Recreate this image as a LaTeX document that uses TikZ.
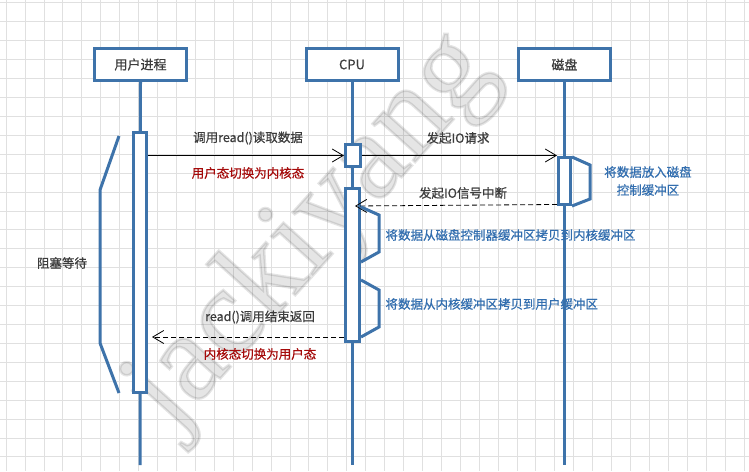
\documentclass[tikz,border=0pt]{standalone}
\usepackage{fontspec}
\setmainfont{Noto Sans CJK SC}[FakeBold=0.7]
\newfontfamily\markfont{Liberation Serif}[FakeBold=2]
\usetikzlibrary{arrows.meta}
\definecolor{seqBlue}{RGB}{62,115,170}
\definecolor{seqRed}{RGB}{165,10,10}
\definecolor{seqText}{RGB}{60,60,60}
\definecolor{seqNote}{RGB}{50,110,175}
\definecolor{seqGrid}{RGB}{224,224,224}
\begin{document}
\begin{tikzpicture}[x=1pt,y=-1pt,
    seqHead/.style={rectangle,draw=seqBlue,line width=3pt,fill=white,minimum width=92pt,minimum height=32pt,font=\fontsize{13}{15}\selectfont,text=seqText},
    seqAct/.style={rectangle,draw=seqBlue,line width=3pt,fill=white,inner sep=0pt},
    seqLife/.style={draw=seqBlue,line width=3pt},
    seqBrace/.style={draw=seqBlue,line width=3pt,line join=miter},
    seqMsg/.style={-{Straight Barb[length=11pt,width=13pt]},line width=0.8pt},
    seqRet/.style={seqMsg,dash pattern=on 5pt off 3pt},
    seqLabel/.style={font=\fontsize{12.5}{15}\selectfont,text=seqText},
    seqSwitch/.style={font=\fontsize{12.5}{15}\selectfont,text=seqRed},
    seqNote/.style={font=\fontsize{12.5}{18}\selectfont,text=seqNote,align=center},
]
\useasboundingbox (0,0) rectangle (749,471);
\fill[white] (0,0) rectangle (749,471);
% grid
\foreach \i in {0,...,39}
  \draw[seqGrid,line width=0.6pt] (6+18.92*\i,0) -- (6+18.92*\i,471);
\foreach \j in {0,...,24}
  \draw[seqGrid,line width=0.6pt] (0,2.7+18.92*\j) -- (749,2.7+18.92*\j);
% watermark
\node[rotate=48,font=\markfont\fontsize{125}{125}\selectfont,text=black,opacity=0.1] (mark) at (312,232) {jackiyang};

% heads and lifelines
\node[seqHead] (userHead) at (140.5,64.5) {用户进程};
\node[seqHead] (cpuHead) at (352,64.5) {CPU};
\node[seqHead] (diskHead) at (564.5,64.5) {磁盘};
\coordinate (userEnd) at (140,465);
\coordinate (cpuEnd) at (352,465);
\coordinate (diskEnd) at (564.5,465);
\draw[seqLife] (userHead.south) -- (userEnd);
\draw[seqLife] (cpuHead.south) -- (cpuEnd);
\draw[seqLife] (diskHead.south) -- (diskEnd);

% activations
\node[seqAct,minimum width=13pt,minimum height=260pt] (userAct) at (140,262.5) {};
\node[seqAct,minimum width=15pt,minimum height=22pt] (cpuCall) at (353,155.5) {};
\node[seqAct,minimum width=14pt,minimum height=153pt] (cpuWork) at (352.5,265) {};
\node[seqAct,minimum width=12pt,minimum height=47pt] (diskAct) at (564.5,181) {};

% messages
\draw[seqMsg] (userAct.east |- cpuCall.west) -- (cpuCall.west);
\node[seqLabel] (callText) at (248,138) {调用read()读取数据};
\node[seqSwitch] (callMode) at (248,173) {用户态切换为内核态};

\draw[seqMsg] (cpuCall.east) -- (cpuCall.east -| diskAct.west);
\node[seqLabel] (ioText) at (458,138) {发起IO请求};

\coordinate (irqEnd) at (355,206);
\draw[seqRet] (diskAct.south west) ++(0,-1.5) -- (irqEnd);
\node[seqLabel] (irqText) at (463,193) {发起IO信号中断};

\coordinate (retStart) at (344,337);
\coordinate (retEnd) at (152,337);
\draw[seqRet] (retStart) -- (retEnd);
\node[seqLabel] (retText) at (260,317) {read()调用结束返回};
\node[seqSwitch] (retMode) at (260,354) {内核态切换为用户态};

% self brackets
\draw[seqBrace] (572,157) -- (590,165) -- (590,199) -- (572,206);
\node[seqNote] (diskNote) at (648,181) {将数据放入磁盘\\控制缓冲区};
\draw[seqBrace] (361,207) -- (379,215) -- (379,252) -- (361,262);
\node[seqNote,anchor=west] (copyKernel) at (382,235) {将数据从磁盘控制器缓冲区拷贝到内核缓冲区};
\draw[seqBrace] (361,280) -- (379,290) -- (379,327) -- (361,337);
\node[seqNote,anchor=west] (copyUser) at (382,304) {将数据从内核缓冲区拷贝到用户缓冲区};

% blocking
\draw[seqBrace] (119,136) -- (100,190) -- (100,343) -- (119,393);
\node[seqLabel] (blockText) at (62,263) {阻塞等待};
\end{tikzpicture}
\end{document}
